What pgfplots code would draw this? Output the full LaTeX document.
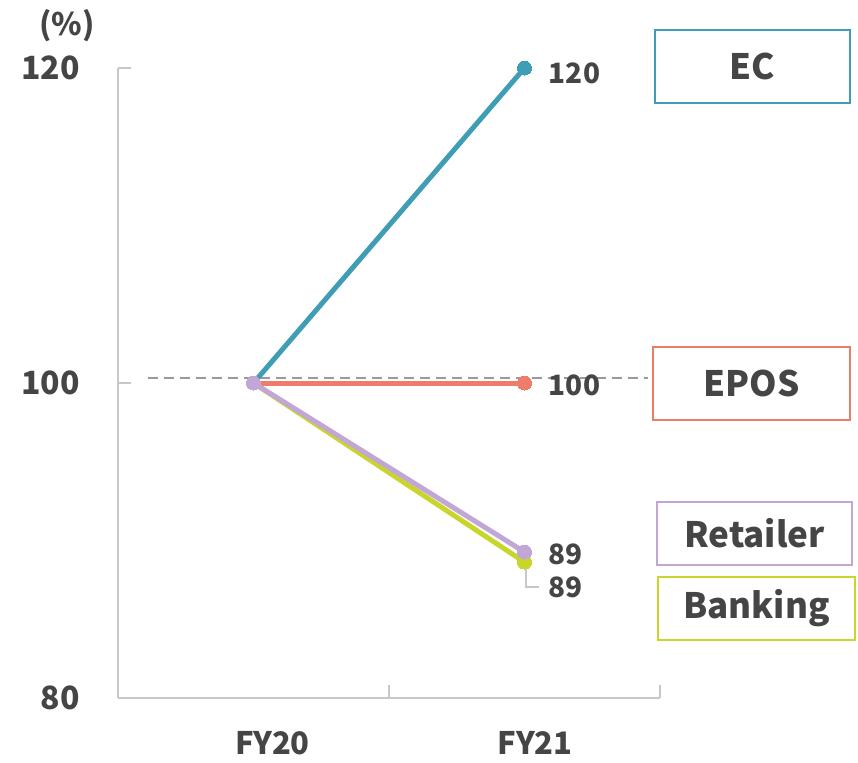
\documentclass[border=0pt]{standalone}
\usepackage{pgfplots}
\pgfplotsset{compat=1.18}
\usepackage{fontspec}
\setmainfont{Noto Sans CJK JP}
\definecolor{ec}{HTML}{3F9DB5}
\definecolor{epos}{HTML}{EE7C6B}
\definecolor{ret}{HTML}{C2A6D6}
\definecolor{bank}{HTML}{C8D52B}
\definecolor{txt}{HTML}{454545}
\definecolor{axg}{HTML}{C8C8C8}
\definecolor{dsh}{HTML}{9A9A9A}
\newcommand{\fs}[1]{\fontsize{#1}{#1}\selectfont\bfseries}
\begin{document}
\begin{tikzpicture}
\path[use as bounding box] (-59pt,-32pt) rectangle (370pt,349pt);
\begin{axis}[
  at={(0,0)}, anchor=south west,
  scale only axis, width=271pt, height=315pt,
  xmin=0, xmax=2, ymin=80, ymax=120,
  clip=false,
  axis x line=bottom, axis y line=left,
  axis line style={-, draw=axg, line width=1pt},
  tick align=inside,
  ytick={80,100,120},
  xtick={0.57,1.54}, xticklabels={FY20,FY21},
  minor xtick={1,2},
  major x tick style={draw=none},
  minor x tick style={draw=axg, line width=1pt},
  major y tick style={draw=axg, line width=1pt},
  major tick length=6.5pt, minor tick length=6.5pt,
  /pgf/number format/assume math mode=true,
  yticklabel style={anchor=east, inner sep=0pt, xshift=-19pt, font=\fs{16}, text=txt},
  xticklabel style={anchor=center, inner sep=0pt, yshift=-22.5pt, font=\fs{15.5}, text=txt},
]
\addplot[dsh, line width=0.9pt, dash pattern=on 5pt off 3pt, forget plot] coordinates {(0.11,100.32) (1.956,100.32)};
\addplot[ec, line width=2.5pt, mark=*, mark size=3.5pt, mark options={fill=ec, draw=ec, line width=0pt}] coordinates {(0.5,100) (1.5,120)};
\addplot[epos, line width=2.5pt, mark=*, mark size=3.5pt, mark options={fill=epos, draw=epos, line width=0pt}] coordinates {(0.5,100) (1.5,100)};
\addplot[bank, line width=2.5pt, mark=*, mark size=3.5pt, mark options={fill=bank, draw=bank, line width=0pt}] coordinates {(0.5,100) (1.5,88.63)};
\addplot[ret, line width=2.5pt, mark=*, mark size=3.5pt, mark options={fill=ret, draw=ret, line width=0pt}] coordinates {(0.5,100) (1.5,89.27)};
\draw[axg, line width=0.7pt] (axis cs:1.506,88.3) |- (axis cs:1.553,87.05);
\node[anchor=west, inner sep=0pt, font=\fs{14}, text=txt] at (axis cs:1.5,120) [xshift=12pt, yshift=-2.5pt] {120};
\node[anchor=west, inner sep=0pt, font=\fs{14}, text=txt] at (axis cs:1.5,100) [xshift=12pt, yshift=-1pt] {100};
\node[anchor=west, inner sep=0pt, font=\fs{14}, text=txt] at (axis cs:1.5,89.14) [xshift=12pt] {89};
\node[anchor=west, inner sep=0pt, font=\fs{14}, text=txt] at (axis cs:1.5,87.05) [xshift=12pt] {89};
\node[font=\fs{15.5}, text=txt] at (axis cs:-0.188,122.7) {(\%)};
\node[draw=ec, line width=1.25pt, minimum width=97.5pt, minimum height=36.5pt, font=\fs{17.5}, text=txt] at (axis cs:2.341,120.1) {EC};
\node[draw=epos, line width=1.25pt, minimum width=98.5pt, minimum height=36.5pt, font=\fs{17.5}, text=txt] at (axis cs:2.338,99.97) {EPOS};
\node[draw=ret, line width=1.25pt, minimum width=97.5pt, minimum height=31.5pt, font=\fs{17.5}, text=txt] at (axis cs:2.349,90.44) {Retailer};
\node[draw=bank, line width=1.25pt, minimum width=98.5pt, minimum height=31.5pt, font=\fs{17.5}, text=txt] at (axis cs:2.356,85.68) {Banking};
\end{axis}
\end{tikzpicture}
\end{document}
